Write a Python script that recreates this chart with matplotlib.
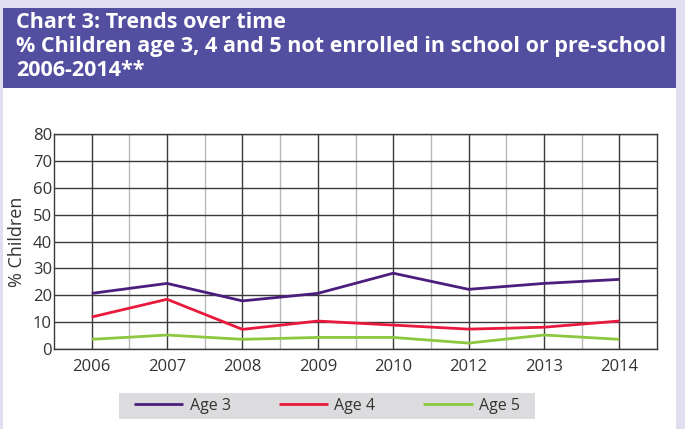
import matplotlib
matplotlib.use("Agg")
import matplotlib.pyplot as plt
import numpy as np
from matplotlib.patches import Rectangle

years = ["2006", "2007", "2008", "2009", "2010", "2012", "2013", "2014"]
age3 = [20.7, 24.4, 17.9, 20.7, 28.2, 22.2, 24.4, 25.9]
age4 = [11.9, 18.5, 7.3, 10.4, 8.9, 7.4, 8.1, 10.4]
age5 = [3.6, 5.2, 3.6, 4.3, 4.3, 2.2, 5.2, 3.6]
series_names = ["Age 3", "Age 4", "Age 5"]
series_colors = ["#4b1e7e", "#e8193c", "#8dc63f"]
title_lines = ["Chart 3: Trends over time",
               "% Children age 3, 4 and 5 not enrolled in school or pre-school",
               "2006-2014**"]

W, H = 685, 429
fig = plt.figure(figsize=(W / 100, H / 100), dpi=100)
fig.patch.set_facecolor("#e1dfef")

def fx(px):
    return px / W

def fy(py):
    return 1 - py / H

# white panel
fig.patches.append(Rectangle((fx(3), 0), fx(676) - fx(3), fy(8), transform=fig.transFigure,
                             facecolor="white", edgecolor="none", zorder=-2))
# purple header band
fig.patches.append(Rectangle((fx(3), fy(88)), fx(676) - fx(3), fy(8) - fy(88), transform=fig.transFigure,
                             facecolor="#524ea0", edgecolor="none", zorder=-1))
# legend background
fig.patches.append(Rectangle((fx(119), fy(419)), fx(535) - fx(119), fy(393) - fy(419),
                             transform=fig.transFigure, facecolor="#dcdcde", edgecolor="none", zorder=-1))

for i, line in enumerate(title_lines):
    fig.text(fx(16), fy(28.5 + i * 23.5), line, color="white", fontsize=15.45,
             fontweight="bold", family="Open Sans", ha="left", va="baseline")

ax = fig.add_axes([fx(54), fy(349), fx(657) - fx(54), fy(134) - fy(349)])
ax.set_zorder(5)
ax.set_facecolor("white")
x = np.arange(len(years))
for vals, name, col in zip([age3, age4, age5], series_names, series_colors):
    ax.plot(x, vals, color=col, lw=2.0, label=name, zorder=3, solid_capstyle="butt")

ax.set_xlim(-0.5, len(years) - 0.5)
ax.set_ylim(0, 80)
ax.set_yticks(np.arange(0, 81, 10))
ax.set_xticks(x)
ax.set_xticklabels(years)
ax.set_xticks(x[:-1] + 0.5, minor=True)
ax.grid(True, which="major", color="#3a3a3a", lw=1.0, zorder=1)
ax.grid(True, which="minor", axis="x", color="#b8b8b8", lw=1.0, zorder=1)
ax.tick_params(which="both", length=0)
ax.tick_params(axis="x", pad=7)
ax.tick_params(axis="y", pad=1.5)
for lab in ax.get_xticklabels() + ax.get_yticklabels():
    lab.set_family("Open Sans")
    lab.set_fontsize(12)
    lab.set_color("#333333")
for s in ax.spines.values():
    s.set_color("#3a3a3a")
    s.set_linewidth(1.0)
ax.set_ylabel("% Children", family="Open Sans", fontsize=13, color="#333333", labelpad=5)

leg = fig.legend(loc="center", bbox_to_anchor=(fx(327), fy(406)), ncol=3,
                 frameon=False, prop={"family": "Open Sans", "size": 11.5}, handlelength=3.1,
                 columnspacing=3.0, handletextpad=0.4, borderpad=0.3, borderaxespad=0)
leg.set_zorder(6)
for t in leg.get_texts():
    t.set_color("#333333")

fig.savefig("out.png", dpi=100, facecolor=fig.get_facecolor())
